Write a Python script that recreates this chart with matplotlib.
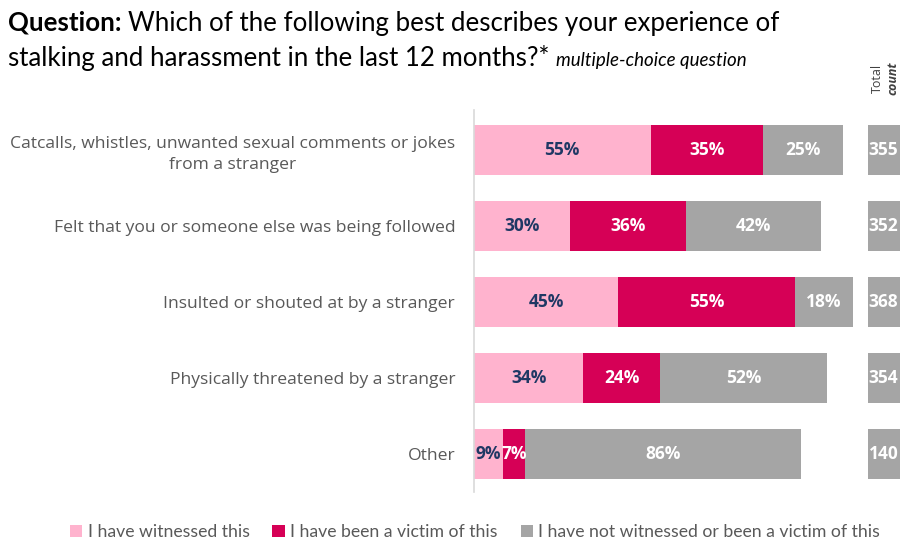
import matplotlib
matplotlib.use("Agg")
import matplotlib.pyplot as plt

categories = ["Catcalls, whistles, unwanted sexual comments or jokes\nfrom a stranger",
              "Felt that you or someone else was being followed",
              "Insulted or shouted at by a stranger",
              "Physically threatened by a stranger",
              "Other"]
witnessed = [55, 30, 45, 34, 9]
victim = [35, 36, 55, 24, 7]
neither = [25, 42, 18, 52, 86]
totals = [355, 352, 368, 354, 140]
series_names = ["I have witnessed this",
                "I have been a victim of this",
                "I have not witnessed or been a victim of this"]

c_pink = "#FFB3CE"
c_magenta = "#D60056"
c_gray = "#A5A5A5"
c_navy = "#1F3864"
c_label = "#595959"

title_font = "Lato"
label_font = "Open Sans"

fig = plt.figure(figsize=(9.04, 5.45), dpi=100)
W, H = 904, 545


def fx(px):
    return px / W


def fy(py):
    return 1 - py / H


# main stacked bars
ax = fig.add_axes([fx(474), fy(492), fx(862 - 474), (492 - 110) / H])
ypos = list(range(len(categories)))
left = [0] * len(categories)
for vals, col, tcol, name in zip([witnessed, victim, neither],
                                 [c_pink, c_magenta, c_gray],
                                 [c_navy, "white", "white"],
                                 series_names):
    bars = ax.barh(ypos, vals, left=left, height=0.66, color=col, label=name)
    for b, v in zip(bars, vals):
        ax.text(b.get_x() + b.get_width() / 2, b.get_y() + b.get_height() / 2,
                f"{v}%", ha="center", va="center", color=tcol,
                fontsize=12.5, fontweight="bold", family=label_font)
    left = [l + v for l, v in zip(left, vals)]

ax.set_xlim(0, (862 - 474) / 3.21)
ax.set_ylim(len(categories) - 0.5, -0.526)
ax.set_xticks([])
ax.set_yticks(ypos)
ax.set_yticklabels(categories, fontsize=12.6, color=c_label, family=label_font,
                   multialignment="center", linespacing=1.45)
ax.tick_params(axis="y", length=0, pad=13.5)
for s in ["top", "right", "bottom"]:
    ax.spines[s].set_visible(False)
ax.spines["left"].set_color("#D9D9D9")
ax.spines["left"].set_linewidth(1.2)

# total count column
axc = fig.add_axes([fx(868), fy(492), fx(900 - 868), (492 - 110) / H])
axc.barh(ypos, [1] * len(totals), height=0.66, color=c_gray)
for y, t in zip(ypos, totals):
    axc.text(0.02, y, str(t), ha="left", va="center", color="white",
             fontsize=12.5, fontweight="bold", family=label_font, clip_on=True)
axc.set_xlim(0, 1)
axc.set_ylim(len(categories) - 0.5, -0.526)
axc.axis("off")

fig.text(fx(877), fy(78), "Total", rotation=90, ha="center", va="center",
         fontsize=9, color="#404040", family=label_font)
fig.text(fx(893), fy(78), "count", rotation=90, ha="center", va="center",
         fontsize=9, color="#404040", family=label_font,
         fontweight="bold", style="italic")

# title, built from pieces placed side by side
fig.canvas.draw()
renderer = fig.canvas.get_renderer()


def chain(x_px, y_px, parts):
    x = x_px
    for txt, kw in parts:
        t = fig.text(fx(x), fy(y_px), txt, va="baseline", ha="left", **kw)
        x += t.get_window_extent(renderer).width
    return x


tkw = dict(fontsize=18.6, color="black", family=title_font)
chain(8, 31, [("Question: ", dict(tkw, fontweight="bold")),
              ("Which of the following best describes your experience of", tkw)])
chain(8, 66, [("stalking and harassment in the last 12 months?* ", tkw),
              ("multiple-choice question", dict(fontsize=13.5, style="italic",
                                                color="black", family=title_font))])

# legend
handles, labels = ax.get_legend_handles_labels()
fig.legend(handles, labels, loc="center", bbox_to_anchor=(fx(475), fy(532)),
           ncol=3, frameon=False, handlelength=0.7,
           handleheight=0.7, handletextpad=0.3, columnspacing=1.3,
           prop=dict(family=title_font, size=12.7),
           labelcolor=c_label)

fig.savefig("out.png", dpi=100, facecolor="white")
